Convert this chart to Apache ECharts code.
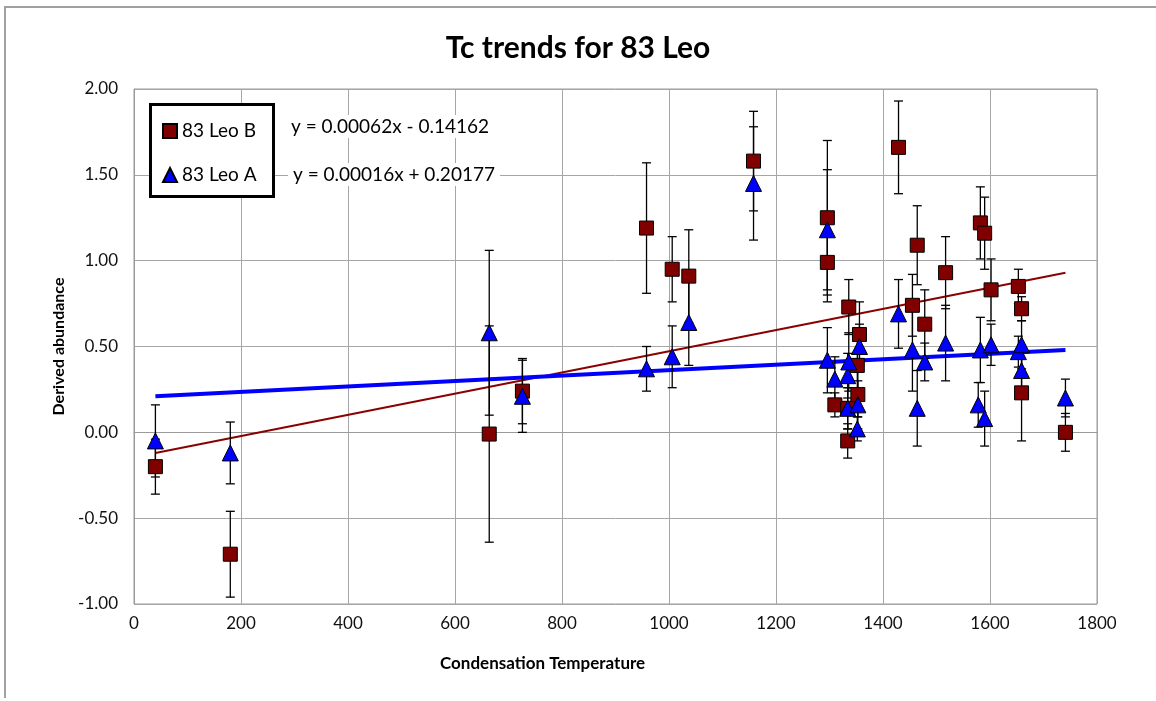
<!DOCTYPE html>
<html>
<head>
<meta charset="utf-8">
<script src="https://cdn.jsdelivr.net/npm/echarts@6/dist/echarts.min.js"></script>
<style>
html,body{margin:0;padding:0;background:#fff;}
#frame{position:absolute;left:4px;top:6px;width:1160px;height:690px;border-top:2px solid #a0a0a0;border-left:2px solid #a0a0a0;}
#chart{position:absolute;left:0;top:0;width:1156px;height:701px;}
</style>
</head>
<body>
<div id="frame"></div>
<div id="chart"></div>
<script>
// ---- Data ----
const titleText = "Tc trends for 83 Leo";
const xAxisName = "Condensation Temperature";
const yAxisName = "Derived abundance";
const seriesNames = ["83 Leo B", "83 Leo A"];
const equationB = "y = 0.00062x - 0.14162";
const equationA = "y = 0.00016x + 0.20177";

// 83 Leo B
const tempsB  = [40, 180, 664, 726, 958, 1006, 1037, 1158, 1296, 1296, 1310, 1334, 1334, 1336, 1352, 1353, 1356, 1429, 1455, 1464, 1478, 1517, 1582, 1590, 1602, 1653, 1659, 1659, 1741];
const valuesB = [-0.20, -0.71, -0.01, 0.24, 1.19, 0.95, 0.91, 1.58, 1.25, 0.99, 0.16, 0.14, -0.05, 0.73, 0.39, 0.22, 0.57, 1.66, 0.74, 1.09, 0.63, 0.93, 1.22, 1.16, 0.83, 0.85, 0.72, 0.23, 0.00];
const errorsB = [0.16, 0.25, 0.63, 0.19, 0.38, 0.19, 0.27, 0.29, 0.45, 0.23, 0.07, 0.12, 0.10, 0.16, 0.14, 0.13, 0.19, 0.27, 0.18, 0.23, 0.20, 0.21, 0.21, 0.21, 0.18, 0.10, 0.07, 0.28, 0.11];

// 83 Leo A
const tempsA  = [40, 180, 664, 726, 958, 1006, 1037, 1158, 1296, 1296, 1310, 1334, 1334, 1336, 1352, 1353, 1356, 1429, 1455, 1464, 1478, 1517, 1578, 1582, 1590, 1602, 1653, 1659, 1659, 1741];
const valuesA = [-0.05, -0.12, 0.58, 0.21, 0.37, 0.44, 0.64, 1.45, 1.18, 0.42, 0.31, 0.33, 0.14, 0.41, 0.02, 0.16, 0.50, 0.69, 0.48, 0.14, 0.41, 0.52, 0.16, 0.48, 0.08, 0.51, 0.47, 0.51, 0.36, 0.20];
const errorsA = [0.21, 0.18, 0.48, 0.21, 0.13, 0.18, 0.25, 0.33, 0.35, 0.19, 0.13, 0.13, 0.12, 0.17, 0.07, 0.14, 0.13, 0.20, 0.24, 0.22, 0.11, 0.22, 0.13, 0.19, 0.16, 0.12, 0.09, 0.14, 0.15, 0.11];

// trend line end points
const trendX  = [40, 1741];
const trendB  = [-0.12, 0.93];
const trendA  = [0.21, 0.48];

// axis ticks
const xMin = 0, xMax = 1800, xStep = 200;
const yMin = -1, yMax = 2, yStep = 0.5;

// ---- Build ----
const zip3 = (xs, ys, es) => xs.map((x, i) => [x, ys[i], es[i]]);
const dataB = zip3(tempsB, valuesB, errorsB);
const dataA = zip3(tempsA, valuesA, errorsA);
const lineB = trendX.map((x, i) => [x, trendB[i]]);
const lineA = trendX.map((x, i) => [x, trendA[i]]);

const FONT = 'Lato, "Open Sans", sans-serif';
const colB = '#800000', colA = '#0000ff';

function errRender(params, api) {
  const x = api.value(0), y = api.value(1), e = api.value(2);
  const t = api.coord([x, y + e]);
  const b = api.coord([x, y - e]);
  const hw = 4.5;
  const st = {stroke: '#000', lineWidth: 1.3};
  return {
    type: 'group',
    children: [
      {type: 'line', shape: {x1: t[0], y1: t[1], x2: b[0], y2: b[1]}, style: st},
      {type: 'line', shape: {x1: t[0] - hw, y1: t[1], x2: t[0] + hw, y2: t[1]}, style: st},
      {type: 'line', shape: {x1: b[0] - hw, y1: b[1], x2: b[0] + hw, y2: b[1]}, style: st}
    ]
  };
}

const chart = echarts.init(document.getElementById('chart'), null, {renderer: 'canvas'});
chart.setOption({
  backgroundColor: 'transparent',
  animation: false,
  title: {
    text: titleText, left: 'center', top: 28,
    textStyle: {fontFamily: FONT, fontWeight: 'bold', fontSize: 30, color: '#000'}
  },
  grid: {left: 134, right: 59, top: 89, bottom: 97, show: true, borderColor: '#9a9a9a', borderWidth: 1},
  xAxis: {
    type: 'value', min: xMin, max: xMax, interval: xStep,
    axisLine: {show: true, lineStyle: {color: '#9a9a9a'}},
    axisTick: {show: false},
    axisLabel: {fontFamily: FONT, fontSize: 17, color: '#111', margin: 11, formatter: v => String(v)},
    splitLine: {show: true, lineStyle: {color: '#a6a6a6', width: 1}}
  },
  yAxis: {
    type: 'value', min: yMin, max: yMax, interval: yStep,
    name: yAxisName, nameLocation: 'middle', nameGap: 64, nameRotate: 90,
    nameTextStyle: {fontFamily: FONT, fontWeight: 'bold', fontSize: 16, color: '#000'},
    axisLine: {show: true, lineStyle: {color: '#9a9a9a'}},
    axisTick: {show: false},
    axisLabel: {fontFamily: FONT, fontSize: 17, color: '#111', margin: 16, formatter: v => v.toFixed(2)},
    splitLine: {show: true, lineStyle: {color: '#a6a6a6', width: 1}}
  },
  legend: {
    orient: 'vertical', left: 157, top: 115, z: 20,
    data: [{name: seriesNames[0], icon: 'rect'}, {name: seriesNames[1], icon: 'triangle'}],
    itemWidth: 14, itemHeight: 14, itemGap: 22,
    textStyle: {fontFamily: FONT, fontSize: 19, color: '#000', lineHeight: 22}
  },
  graphic: [
    {type: 'rect', left: 149, top: 103, z: 10, shape: {width: 123, height: 92},
     style: {fill: '#fff', stroke: '#000', lineWidth: 3}},
    {type: 'text', left: 286, top: 115, z: 10,
     style: {text: equationB, font: '19px ' + FONT, fill: '#000', backgroundColor: '#fff', padding: [2, 5]}},
    {type: 'text', left: 288, top: 163, z: 10,
     style: {text: equationA, font: '19px ' + FONT, fill: '#000', backgroundColor: '#fff', padding: [2, 5]}},
    {type: 'text', left: 440, top: 655, z: 10,
     style: {text: xAxisName, font: 'bold 17px ' + FONT, fill: '#000'}}
  ],
  series: [
    {name: 'trendB', type: 'line', data: lineB, showSymbol: false, silent: true, z: 2,
     lineStyle: {color: '#8b0000', width: 2}},
    {name: 'trendA', type: 'line', data: lineA, showSymbol: false, silent: true, z: 2,
     lineStyle: {color: colA, width: 4}},
    {name: 'errB', type: 'custom', data: dataB, renderItem: errRender, silent: true, z: 3,
     encode: {x: 0, y: 1}},
    {name: 'errA', type: 'custom', data: dataA, renderItem: errRender, silent: true, z: 3,
     encode: {x: 0, y: 1}},
    {name: seriesNames[0], type: 'scatter', data: dataB, symbol: 'rect', symbolSize: 14, z: 4,
     encode: {x: 0, y: 1},
     itemStyle: {color: colB, borderColor: '#000', borderWidth: 1, opacity: 1}},
    {name: seriesNames[1], type: 'scatter', data: dataA, symbol: 'triangle', symbolSize: 16, z: 5,
     encode: {x: 0, y: 1},
     itemStyle: {color: colA, borderColor: '#000', borderWidth: 1, opacity: 1}}
  ]
});
</script>
</body>
</html>
